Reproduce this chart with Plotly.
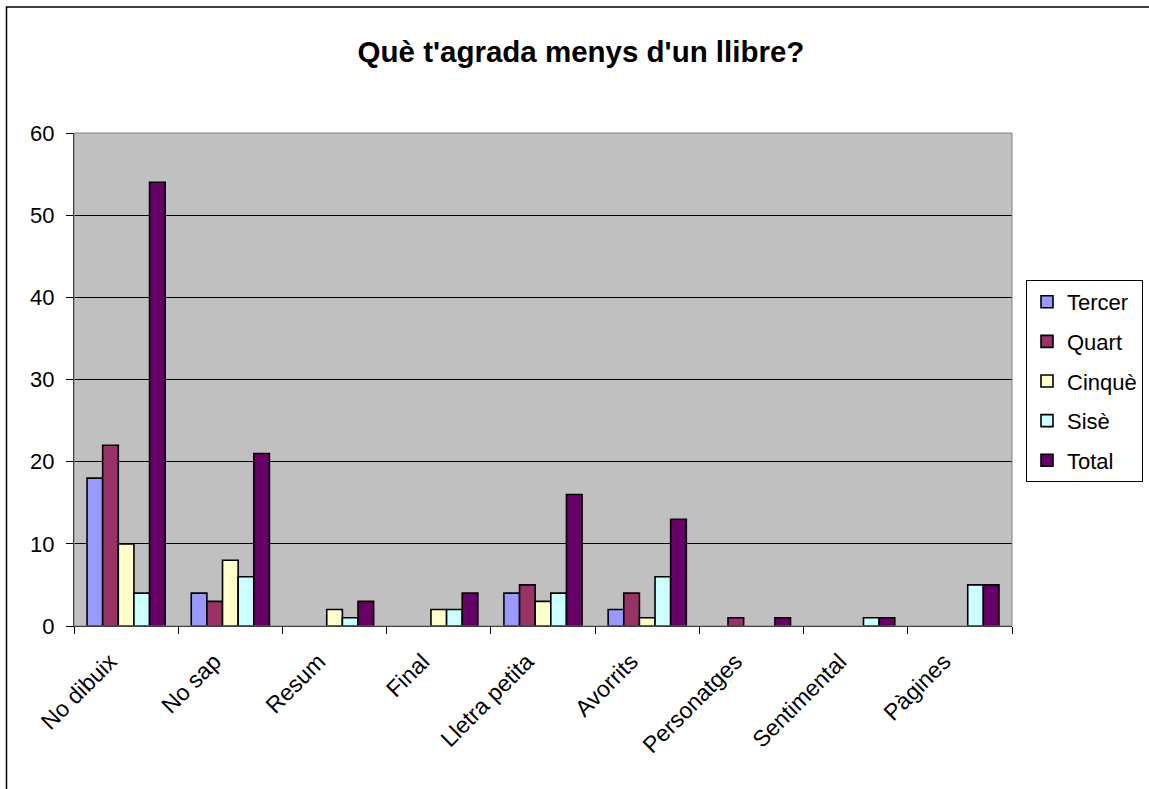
import plotly.graph_objects as go

categories = ["No dibuix", "No sap", "Resum", "Final", "Lletra petita", "Avorrits",
              "Personatges", "Sentimental", "Pàgines"]
tercer = [18, 4, 0, 0, 4, 2, 0, 0, 0]
quart = [22, 3, 0, 0, 5, 4, 1, 0, 0]
cinque = [10, 8, 2, 2, 3, 1, 0, 0, 0]
sise = [4, 6, 1, 2, 4, 6, 0, 1, 5]
total = [54, 21, 3, 4, 16, 13, 1, 1, 5]

series_names = ["Tercer", "Quart", "Cinquè", "Sisè", "Total"]
series_values = [tercer, quart, cinque, sise, total]
series_colors = ["#9999FF", "#993366", "#FFFFCC", "#CCFFFF", "#660066"]

FONT = "Liberation Sans, Arial, sans-serif"

fig = go.Figure()
for name, vals, col in zip(series_names, series_values, series_colors):
    fig.add_trace(go.Bar(
        x=categories, y=[v if v != 0 else None for v in vals], name=name, legendgroup=name,
        marker=dict(color=col, line=dict(color="black", width=1.6)),
    ))

PL, PR, PT, PB = 74, 1012, 133, 626  # plot area in target pixels
W, H = 1149, 789
L = PL
T = PT
PW = PR - PL
PH = PB - PT
R = W - L - PW
B = H - T - PH

fig.update_layout(
    width=W, height=H,
    margin=dict(l=L, r=R, t=T, b=B, autoexpand=False),
    paper_bgcolor="white",
    plot_bgcolor="#C0C0C0",
    barmode="group", bargap=0.25, bargroupgap=0,
    font=dict(family=FONT, size=22, color="black"),
    title=dict(text="<b>Què t'agrada menys d'un llibre?</b>", x=(581 - PL) / PW, xref="paper",
               xanchor="center",
               y=1 - 52 / H, yanchor="middle",
               font=dict(family=FONT, size=29.5, color="black")),
    legend=dict(x=(1026 - PL) / PW, y=(PB - 280) / PH, xanchor="left", yanchor="top",
                bordercolor="black", borderwidth=1, bgcolor="white",
                font=dict(family=FONT, size=22), tracegroupgap=8,
                traceorder="grouped", itemwidth=30),
    showlegend=True,
)
fig.update_yaxes(range=[0, 60], dtick=10, showgrid=True, gridcolor="black", gridwidth=1,
                 showline=True, linecolor="black", linewidth=1,
                 ticks="outside", ticklen=7, tickcolor="black",
                 zeroline=False, ticklabelstandoff=7)
fig.update_xaxes(type="category", showgrid=False, showline=True, linecolor="black", linewidth=1,
                 ticks="outside", tickson="boundaries", ticklen=7, tickcolor="black",
                 tickangle=-45, ticklabelshift=-16, ticklabelstandoff=12,
                 tickfont=dict(family=FONT, size=23))

# plot area border (grey top/right)
fig.add_shape(type="rect", xref="paper", yref="paper", x0=0, x1=1, y0=0, y1=1,
              line=dict(color="#808080", width=1), layer="above")
# outer chart border
fig.add_shape(type="rect", xref="paper", yref="paper",
              x0=(6.5 - PL) / PW, x1=(1170 - PL) / PW,
              y0=(PB - 810) / PH, y1=(PB - 7) / PH,
              line=dict(color="black", width=1.5), layer="above")

fig.write_html("out.html", config={"displayModeBar": False},
               post_script="document.body.style.margin='0';document.body.style.overflow='hidden';")
